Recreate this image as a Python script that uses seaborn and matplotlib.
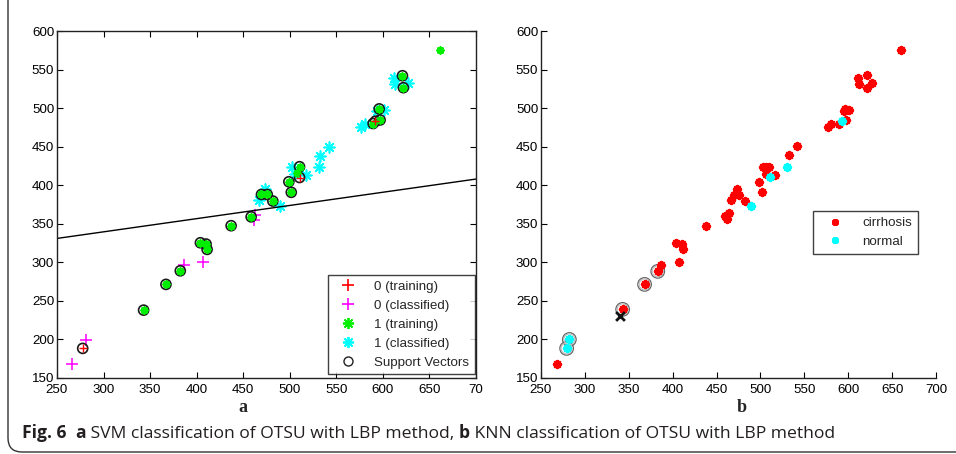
import numpy as np
import pandas as pd
import matplotlib
matplotlib.use("Agg")
import matplotlib.pyplot as plt
import seaborn as sns
from matplotlib.lines import Line2D
from matplotlib.path import Path
from matplotlib.patches import PathPatch

# ---------------- data ----------------
# Panel a (SVM)
train0_x = [277.6, 592.0, 510.5]
train0_y = [188.4, 483.0, 410.0]
class0_x = [266.5, 281.2, 386.0, 406.8, 463.0, 462.0]
class0_y = [167.7, 199.2, 297.0, 300.6, 361.4, 355.0]
train1_x = [661.0, 621.0, 622.0, 596.0, 597.0, 589.5, 510.5, 508.0, 499.0, 501.6, 469.6, 475.8,
            481.8, 458.5, 437.0, 404.0, 410.1, 411.2, 382.4, 367.0, 343.0]
train1_y = [575.0, 542.0, 526.5, 499.0, 484.6, 480.0, 424.0, 416.0, 404.5, 390.8, 388.0, 388.0,
            379.5, 359.0, 347.5, 325.4, 323.7, 316.8, 289.0, 271.4, 238.0]
class1_x = [611.4, 612.8, 627.0, 601.0, 594.0, 576.6, 580.8, 542.0, 532.4, 531.0, 502.6, 506.0,
            517.0, 473.0, 466.7, 489.3]
class1_y = [538.6, 531.0, 532.0, 497.5, 496.0, 475.0, 480.0, 450.0, 438.5, 424.0, 424.0, 415.0,
            413.0, 395.0, 381.0, 373.0]
sv_x = [277.6, 592.0, 510.5, 621.0, 622.0, 596.0, 597.0, 589.5, 510.5, 499.0, 501.6, 469.6, 475.8,
        481.8, 458.5, 437.0, 404.0, 410.1, 411.2, 382.4, 367.0, 343.0]
sv_y = [188.4, 483.0, 410.0, 542.0, 526.5, 499.0, 484.6, 480.0, 424.0, 404.5, 390.8, 388.0, 388.0,
        379.5, 359.0, 347.5, 325.4, 323.7, 316.8, 289.0, 271.4, 238.0]
boundary_x = [250.0, 700.0]
boundary_y = [331.0, 408.0]

# Panel b (KNN)
cirr_x = [660.0, 611.0, 612.0, 621.0, 621.7, 627.0, 576.6, 580.7, 589.0, 594.8, 596.0, 600.5,
          597.0, 542.0, 533.0, 502.5, 506.3, 510.0, 506.0, 517.0, 498.7, 501.3, 473.0, 470.0,
          476.0, 466.5, 482.0, 459.6, 464.5, 462.0, 437.6, 404.0, 410.2, 411.8, 407.2, 386.3,
          383.0, 368.0, 343.0, 268.0]
cirr_y = [575.0, 538.6, 531.0, 542.5, 526.5, 532.0, 475.0, 480.0, 480.0, 496.0, 498.5, 497.5,
          484.6, 450.4, 438.8, 424.0, 424.0, 424.0, 414.5, 413.0, 404.0, 391.0, 394.5, 387.0,
          387.0, 381.0, 379.5, 360.0, 364.0, 355.8, 347.5, 325.4, 323.7, 316.9, 300.4, 296.5,
          288.3, 271.4, 239.0, 167.7]
norm_x = [592.5, 530.6, 511.0, 489.0, 282.3, 279.2]
norm_y = [483.3, 424.0, 411.0, 373.0, 200.0, 188.4]
nbr_x = [282.3, 279.2, 343.0, 368.0, 383.0]
nbr_y = [200.0, 188.4, 239.0, 271.4, 288.3]
query_x = [340.0]
query_y = [230.4]

xticks = [250, 300, 350, 400, 450, 500, 550, 600, 650, 700]
yticks = [150, 200, 250, 300, 350, 400, 450, 500, 550, 600]
legend_a = ["0 (training)", "0 (classified)", "1 (training)", "1 (classified)", "Support Vectors"]
legend_b = ["cirrhosis", "normal"]

# ---------------- style ----------------
sns.set_style("ticks")
plt.rcParams["font.family"] = ["Liberation Sans", "DejaVu Sans"]
plt.rcParams["xtick.direction"] = "in"
plt.rcParams["ytick.direction"] = "in"

W, H = 956, 454
fig = plt.figure(figsize=(W / 100, H / 100), dpi=100)
fig.patch.set_facecolor("white")

def fx(px):
    return px / W

def fy(py):
    return 1 - py / H

axa = fig.add_axes([fx(57), fy(378), fx(476) - fx(57), fy(31) - fy(378)])
axb = fig.add_axes([fx(541), fy(378), fx(936) - fx(541), fy(31) - fy(378)])

AST = (8, 2, 0)  # MATLAB-like asterisk
TICKFS = 9.6

# ---- panel a ----
sns.lineplot(x=boundary_x, y=boundary_y, ax=axa, color="black", linewidth=1.0, estimator=None)
sns.scatterplot(x=class1_x, y=class1_y, ax=axa, marker=AST, s=60, color="#00ffff", linewidth=1.2)
sns.scatterplot(x=class0_x, y=class0_y, ax=axa, marker="+", s=80, color="#ff00ff", linewidth=1.1)
sns.scatterplot(x=sv_x, y=sv_y, ax=axa, marker="o", s=52, facecolor="none", edgecolor="#1a1a1a",
                linewidth=1.2)
sns.scatterplot(x=train1_x, y=train1_y, ax=axa, marker=AST, s=16, color="#00ee00", linewidth=2.0)
sns.scatterplot(x=train0_x, y=train0_y, ax=axa, marker="+", s=40, color="#ff0000", linewidth=1.0)

axa.set_xlim(250, 700)
axa.set_ylim(150, 600)
axa.set_xticks(xticks)
axa.set_yticks(yticks)
axa.set_xticklabels(["250", "300", "350", "400", "450", "500", "550", "600", "650", "70"])
axa.tick_params(axis="both", which="both", top=True, right=True, length=4, width=0.8,
                labelsize=TICKFS, pad=2, colors="black")
axa.tick_params(axis="x", pad=4)
for s in axa.spines.values():
    s.set_visible(True)
    s.set_linewidth(1.0)
    s.set_color("#222222")

ha = [
    Line2D([], [], linestyle="none", marker="+", color="#ff0000", markersize=9, markeredgewidth=1.2),
    Line2D([], [], linestyle="none", marker="+", color="#ff00ff", markersize=9, markeredgewidth=1.2),
    Line2D([], [], linestyle="none", marker=AST, color="#00ee00", markersize=8, markeredgewidth=1.3),
    Line2D([], [], linestyle="none", marker=AST, color="#00ffff", markersize=8, markeredgewidth=1.3),
    Line2D([], [], linestyle="none", marker="o", markerfacecolor="none", markeredgecolor="#222222",
           markersize=6.5, markeredgewidth=1.0),
]
leg = axa.legend(ha, legend_a, loc="lower right", bbox_to_anchor=(0.997, 0.011),
                 borderaxespad=0, fancybox=False, frameon=True, fontsize=TICKFS,
                 handletextpad=0.9, handlelength=2.2, labelspacing=0.5, borderpad=0.4)
leg.get_frame().set_edgecolor("#111111")
leg.get_frame().set_linewidth(1.0)

# ---- panel b ----
sns.scatterplot(x=nbr_x, y=nbr_y, ax=axb, marker="o", s=95, facecolor="none", edgecolor="#666666",
                linewidth=0.9)
sns.scatterplot(x=nbr_x, y=nbr_y, ax=axb, marker="o", s=62, facecolor="none", edgecolor="#bbbbbb",
                linewidth=0.8)
sns.scatterplot(x=cirr_x, y=cirr_y, ax=axb, marker=AST, s=22, color="#ff0000", linewidth=2.1)
sns.scatterplot(x=norm_x, y=norm_y, ax=axb, marker=AST, s=22, color="#00ffff", linewidth=2.1)
sns.scatterplot(x=query_x, y=query_y, ax=axb, marker="x", s=40, color="#111111", linewidth=2.0)

axb.set_xlim(250, 700)
axb.set_ylim(150, 600)
axb.set_xticks(xticks)
axb.set_yticks(yticks)
axb.tick_params(axis="both", which="both", length=4, width=0.8, labelsize=TICKFS, pad=2,
                colors="black")
axb.tick_params(axis="x", pad=4)
axb.spines["top"].set_visible(False)
axb.spines["right"].set_visible(False)
for k in ("left", "bottom"):
    axb.spines[k].set_linewidth(1.0)
    axb.spines[k].set_color("#222222")

hb = [
    Line2D([], [], linestyle="none", marker=AST, color="#ff0000", markersize=5, markeredgewidth=2.0),
    Line2D([], [], linestyle="none", marker=AST, color="#00ffff", markersize=5, markeredgewidth=2.0),
]
legb = axb.legend(hb, legend_b, loc="upper right", bbox_to_anchor=(0.954, 0.481),
                  borderaxespad=0, fancybox=False, frameon=True, fontsize=TICKFS,
                  handletextpad=0.8, handlelength=2.4, labelspacing=0.45, borderpad=0.45)
legb.get_frame().set_edgecolor("#111111")
legb.get_frame().set_linewidth(1.0)

# panel letters
fig.text(fx(243), fy(407), "a", family=["Liberation Serif", "DejaVu Serif"], weight="bold",
         fontsize=13, ha="center", va="center")
fig.text(fx(742), fy(407), "b", family=["Liberation Serif", "DejaVu Serif"], weight="bold",
         fontsize=13, ha="center", va="center")

# caption (mixed bold/regular)
CAPFS = 12.6
capfam = ["Open Sans", "DejaVu Sans"]
pieces = [("Fig. 6", "bold"), ("  ", "normal"), ("a", "bold"),
          (" SVM classification of OTSU with LBP method, ", "normal"), ("b", "bold"),
          (" KNN classification of OTSU with LBP method", "normal")]
prev = fig.text(fx(22), fy(438), pieces[0][0], family=capfam, weight=pieces[0][1],
                fontsize=CAPFS, ha="left", va="baseline", color="#231f20")
for txt, wt in pieces[1:]:
    prev = plt.annotate(txt, xy=(1, 0), xycoords=prev, xytext=(0, 0),
                        textcoords="offset points", family=capfam, weight=wt,
                        fontsize=CAPFS, ha="left", va="bottom", color="#231f20",
                        annotation_clip=False)

# frame: left line with rounded bottom-left corner and bottom line
r = 14
verts = [(8, 0), (8, 452 - r), (8, 452), (8 + r, 452), (W + 10, 452)]
codes = [Path.MOVETO, Path.LINETO, Path.CURVE3, Path.CURVE3, Path.LINETO]
vf = [(fx(x), fy(y)) for x, y in verts]
fig.patches.append(PathPatch(Path(vf, codes), transform=fig.transFigure, fill=False,
                             edgecolor="#333333", linewidth=1.0))

fig.savefig("out.png", dpi=100)
